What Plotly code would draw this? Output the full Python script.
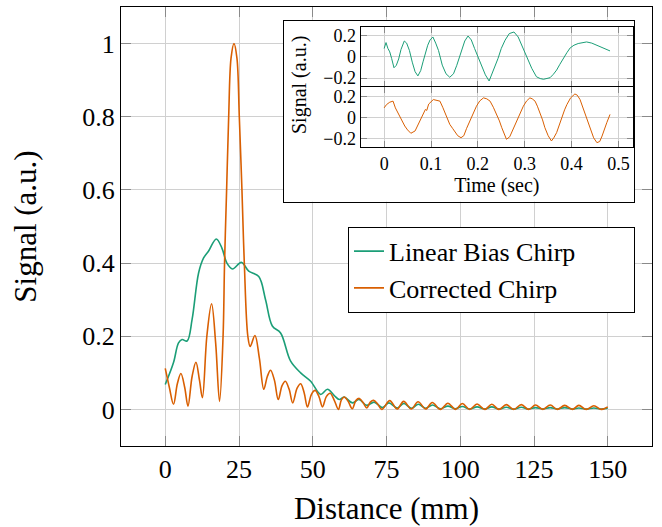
import plotly.graph_objects as go

# ---------------- main plot data ----------------
corr_x = [0, 1.4, 2.8, 4.1, 5.3, 6.6, 7.7, 9.1, 10.4, 11.6, 12.6, 14.1, 15.7, 17.1, 18.4,
          19.6, 20.1, 20.8, 21.5, 22.3, 23.3, 24.3, 25.1, 26.0, 26.8, 28.0, 28.8, 30.4, 31.9,
          33.4, 34.6, 35.7, 37.0, 38.3, 39.6, 40.7, 42.0, 43.2, 44.7, 45.9, 47.1, 48.2, 49.6,
          50.8, 52.1, 53.3, 54.6, 55.9, 57.3, 58.7, 59.7, 60.7, 62.0, 63.4, 64.6, 65.8, 67.1,
          68.3, 69.5, 70.6, 72.0, 73.4, 76.1, 78.6, 80.8, 83.4, 85.7, 88.3, 90.5, 93.3, 95.8,
          98.4, 100.7, 103.2, 105.7, 108.3, 110.7, 113.1, 115.6, 118.1, 120.7, 123.2, 125.5,
          128.0, 130.5, 132.9, 135.4, 138.0, 140.2, 142.7, 145.3, 147.8, 150.0]
corr_y = [0.112, 0.06, 0.014, 0.07, 0.098, 0.06, 0.009, 0.09, 0.129, 0.08, 0.032, 0.2, 0.289,
          0.18, 0.022, 0.2, 0.4, 0.6, 0.8, 0.96, 1.0, 0.96, 0.8, 0.6, 0.4, 0.2, 0.172, 0.202,
          0.14, 0.055, 0.09, 0.107, 0.08, 0.027, 0.065, 0.077, 0.055, 0.018, 0.058, 0.07,
          0.045, 0.007, 0.042, 0.052, 0.035, 0.007, 0.035, 0.044, 0.025, 0.0, 0.026, 0.034,
          0.022, 0.002, 0.024, 0.030, 0.018, 0.004, 0.02, 0.025, 0.015, 0.0, 0.024, 0.001,
          0.022, 0.001, 0.021, 0.001, 0.019, 0.0, 0.017, 0.0, 0.016, 0.0, 0.015, 0.0, 0.014,
          0.0, 0.013, 0.0, 0.013, 0.0, 0.012, 0.0, 0.012, 0.0, 0.011, 0.0, 0.011, 0.0, 0.010,
          0.0, 0.007]

lin_x = [0, 2.8, 4.5, 5.7, 7.4, 9.1, 11.3, 13.0, 14.7, 17.3, 19.2, 20.9, 22.8, 25.8, 28.3,
         31.7, 34.0, 36.3, 39.1, 42.5, 45.9, 49.3, 52.7, 55.0, 57.3, 59.0, 60.6, 63.5, 65.7,
         68.3, 70.8, 73.6, 75.8, 78.6, 80.9, 83.4, 85.8, 88.3, 90.6, 93.3, 95.8, 98.4, 100.7,
         103.2, 105.7, 108.3, 110.7, 113.1, 115.6, 118.1, 120.7, 123.2, 125.5, 128.0, 130.5,
         132.9, 135.4, 138.0, 140.2, 142.7, 145.3, 147.8, 150.0]
lin_y = [0.068, 0.128, 0.182, 0.191, 0.187, 0.246, 0.373, 0.414, 0.433, 0.466, 0.441, 0.4,
         0.384, 0.402, 0.378, 0.363, 0.3, 0.228, 0.209, 0.132, 0.1, 0.077, 0.041, 0.055,
         0.038, 0.027, 0.034, 0.018, 0.027, 0.011, 0.02, 0.005, 0.018, 0.004, 0.016, 0.003,
         0.014, 0.003, 0.012, 0.002, 0.009, 0.002, 0.008, 0.001, 0.007, 0.001, 0.007, 0.001,
         0.006, 0.001, 0.006, 0.001, 0.005, 0.001, 0.005, 0.001, 0.005, 0.001, 0.004, 0.001,
         0.004, 0.001, 0.003]

x_ticks = [0, 25, 50, 75, 100, 125, 150]
y_ticks = [0, 0.2, 0.4, 0.6, 0.8, 1]

# ---------------- inset data ----------------
lin_t = [0, 0.004, 0.008, 0.012, 0.016, 0.021, 0.026, 0.031, 0.036, 0.043, 0.048, 0.054,
         0.060, 0.066, 0.072, 0.078, 0.083, 0.088, 0.093, 0.098, 0.104, 0.110, 0.116, 0.124,
         0.132, 0.140, 0.148, 0.155, 0.160, 0.165, 0.172, 0.179, 0.186, 0.193, 0.200, 0.208,
         0.216, 0.224, 0.232, 0.243, 0.250, 0.258, 0.267, 0.277, 0.286, 0.293, 0.300, 0.308,
         0.315, 0.325, 0.333, 0.340, 0.347, 0.354, 0.361, 0.368, 0.375, 0.382, 0.390, 0.397,
         0.405, 0.414, 0.423, 0.432, 0.443, 0.454, 0.463, 0.472, 0.482]
lin_s = [0.079, 0.135, 0.08, 0.047, -0.015, -0.103, -0.08, -0.02, 0.07, 0.15, 0.13, 0.06,
         -0.05, -0.14, -0.18, -0.13, -0.047, 0.03, 0.11, 0.16, 0.188, 0.13, 0.06, -0.078,
         -0.16, -0.193, -0.16, -0.08, -0.01, 0.063, 0.15, 0.197, 0.16, 0.079, 0.0, -0.078,
         -0.17, -0.228, -0.14, -0.015, 0.08, 0.157, 0.22, 0.235, 0.188, 0.12, 0.047, -0.03,
         -0.109, -0.188, -0.205, -0.212, -0.205, -0.197, -0.165, -0.125, -0.07, -0.015, 0.04,
         0.085, 0.11, 0.126, 0.135, 0.141, 0.13, 0.11, 0.095, 0.079, 0.056]

corr_t = [0.000, 0.005, 0.012, 0.019, 0.024, 0.029, 0.034, 0.039, 0.044, 0.050, 0.057, 0.066,
          0.072, 0.078, 0.084, 0.088, 0.091, 0.095, 0.105, 0.112, 0.119, 0.125, 0.130, 0.135,
          0.140, 0.146, 0.151, 0.157, 0.164, 0.170, 0.176, 0.181, 0.187, 0.192, 0.197, 0.204,
          0.212, 0.219, 0.226, 0.233, 0.240, 0.246, 0.251, 0.256, 0.261, 0.268, 0.276, 0.281,
          0.286, 0.291, 0.297, 0.304, 0.311, 0.316, 0.322, 0.327, 0.333, 0.338, 0.343, 0.350,
          0.357, 0.362, 0.368, 0.374, 0.379, 0.385, 0.390, 0.398, 0.407, 0.412, 0.418, 0.424,
          0.429, 0.435, 0.440, 0.447, 0.454, 0.460, 0.465, 0.470, 0.475, 0.482]
corr_s = [0.094, 0.125, 0.148, 0.158, 0.094, 0.05, 0.0, -0.04, -0.078, -0.115, -0.147, -0.125,
          -0.07, -0.016, 0.04, 0.079, 0.07, 0.13, 0.173, 0.165, 0.158, 0.10, 0.047, -0.01,
          -0.062, -0.10, -0.135, -0.17, -0.189, -0.17, -0.10, -0.05, 0.0, 0.06, 0.11, 0.16,
          0.189, 0.18, 0.158, 0.10, 0.032, -0.03, -0.094, -0.16, -0.204, -0.18, -0.10, -0.05,
          0.0, 0.06, 0.11, 0.16, 0.189, 0.18, 0.158, 0.11, 0.047, -0.02, -0.094, -0.17,
          -0.22, -0.19, -0.141, -0.06, 0.016, 0.075, 0.126, 0.19, 0.226, 0.215, 0.173, 0.10,
          0.032, -0.04, -0.11, -0.19, -0.236, -0.225, -0.173, -0.10, -0.047, 0.032]

inset_t_ticks = [0, 0.1, 0.2, 0.3, 0.4, 0.5]
inset_s_ticks = [-0.2, 0, 0.2]

GREEN = "#1b9e77"
ORANGE = "#d95f02"
FONT = "Liberation Serif"
GRID = "#d0d0d0"
TICK = "#8a8a8a"

fig = go.Figure()

fig.add_trace(go.Scatter(x=lin_x, y=lin_y, mode="lines", name="Linear Bias Chirp",
                         line=dict(color=GREEN, width=1.6, shape="spline", smoothing=1.0),
                         xaxis="x", yaxis="y"))
fig.add_trace(go.Scatter(x=corr_x, y=corr_y, mode="lines", name="Corrected Chirp",
                         line=dict(color=ORANGE, width=1.6, shape="spline", smoothing=1.0),
                         xaxis="x", yaxis="y"))
# empty trace to create the inset frame subplot
fig.add_trace(go.Scatter(x=[], y=[], mode="lines", showlegend=False, hoverinfo="skip",
                         xaxis="x2", yaxis="y2"))
fig.add_trace(go.Scatter(x=lin_t, y=lin_s, mode="lines", showlegend=False,
                         line=dict(color=GREEN, width=1), xaxis="x3", yaxis="y3"))
fig.add_trace(go.Scatter(x=corr_t, y=corr_s, mode="lines", showlegend=False,
                         line=dict(color=ORANGE, width=1), xaxis="x4", yaxis="y4"))

W, H = 662, 527
ml, mr, mt, mb = 121, 10, 7, 81
pw, ph = W - ml - mr, H - mt - mb


def px_x(p):
    return (p - ml) / pw


def px_y(p):
    return (H - mb - p) / ph


axis_common = dict(showline=True, linecolor="black", linewidth=1.2, mirror="ticks",
                   ticks="inside", tickcolor=TICK, tickwidth=1, showgrid=True,
                   gridcolor=GRID, gridwidth=1, zeroline=False, automargin=False)

inset_common = dict(showline=True, linecolor="black", linewidth=1.2, mirror="ticks",
                    ticks="inside", tickcolor=TICK, tickwidth=1, ticklen=6, showgrid=True,
                    gridcolor=GRID, gridwidth=1, zeroline=False, automargin=False)

ix0, ix1 = px_x(360.7), px_x(633)
IFS = 18

fig.update_layout(
    width=W, height=H,
    margin=dict(l=ml, r=mr, t=mt, b=mb, pad=0, autoexpand=False),
    paper_bgcolor="white", plot_bgcolor="white",
    font=dict(family=FONT, size=26, color="black"),
    xaxis=dict(domain=[0, 1], range=[-15, 165], tickvals=x_ticks, ticklen=10,
               title=dict(text="Distance (mm)", standoff=14), anchor="y", **axis_common),
    yaxis=dict(domain=[0, 1], range=[-0.1, 1.1], tickvals=y_ticks, ticklen=10,
               title=dict(text="Signal (a.u.)", standoff=36), anchor="x", **axis_common),
    xaxis2=dict(domain=[px_x(284), px_x(634)], range=[0, 1], anchor="y2", showline=True,
                linecolor="black", linewidth=1.2, mirror=True, showgrid=False,
                showticklabels=False, ticks="", zeroline=False, automargin=False),
    yaxis2=dict(domain=[px_y(201.7), px_y(20.7)], range=[0, 1], anchor="x2", showline=True,
                linecolor="black", linewidth=1.2, mirror=True, showgrid=False,
                showticklabels=False, ticks="", zeroline=False, automargin=False),
    xaxis3=dict(domain=[ix0, ix1], range=[-0.05, 0.531], tickvals=inset_t_ticks,
                showticklabels=False, anchor="y3", **inset_common),
    yaxis3=dict(domain=[px_y(86.7), px_y(26.7)], range=[-0.282, 0.285],
                tickvals=inset_s_ticks, anchor="x3", tickfont=dict(size=IFS), **inset_common),
    xaxis4=dict(domain=[ix0, ix1], range=[-0.05, 0.531], tickvals=inset_t_ticks,
                anchor="y4", tickfont=dict(size=IFS),
                title=dict(text="Time (sec)", font=dict(size=20), standoff=2), **inset_common),
    yaxis4=dict(domain=[px_y(147.3), px_y(86.7)], range=[-0.28, 0.295],
                tickvals=inset_s_ticks, anchor="x4", tickfont=dict(size=IFS), **inset_common),
    legend=dict(x=px_x(635), y=px_y(226.7), xanchor="right", yanchor="top",
                orientation="h", entrywidth=240, entrywidthmode="pixels",
                bordercolor="black", borderwidth=1, bgcolor="white",
                font=dict(size=26), tracegroupgap=0),
    annotations=[dict(text="Signal (a.u.)", textangle=-90, xref="paper", yref="paper",
                      x=px_x(299), y=px_y(85), showarrow=False, font=dict(size=20),
                      xanchor="center", yanchor="middle")],
    showlegend=True,
)

fig.write_html("out.html", config={"displayModeBar": False},
               post_script="document.body.style.margin='0';document.body.style.padding='0';")
